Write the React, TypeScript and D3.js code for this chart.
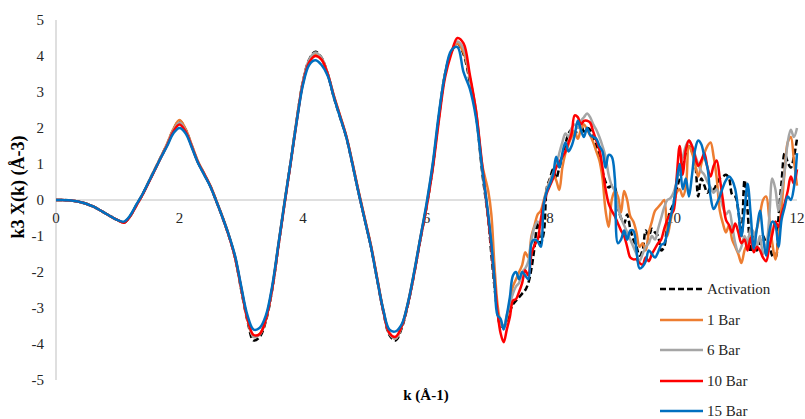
import React from "react";
import * as d3 from "d3";

// k grid: 0.0..6.9 step 0.1, then 7.00..12.00 step 0.05
const kLow: number[] = d3.range(0, 70).map((i) => +(i * 0.1).toFixed(2));
const kHigh: number[] = d3.range(0, 101).map((i) => +(7 + i * 0.05).toFixed(2));
const kValues: number[] = [...kLow, ...kHigh];

const xTicks = [0, 2, 4, 6, 8, 10, 12];
const yTicks = [5, 4, 3, 2, 1, 0, -1, -2, -3, -4, -5];
const seriesNames = ["Activation", "1 Bar", "6 Bar", "10 Bar", "15 Bar"];

const activationLow = [0,0,-0.01,-0.03,-0.06,-0.11,-0.18,-0.27,-0.37,-0.47,
-0.56,-0.63,-0.45,-0.15,0.15,0.5,0.85,1.2,1.55,1.95,
2.2,1.95,1.5,1.05,0.72,0.38,-0.05,-0.5,-1.0,-1.6,
-2.5,-3.35,-3.9,-3.8,-3.35,-2.5,-1.3,-0.1,1.05,2.25,
3.3,3.9,4.12,3.95,3.5,2.85,2.3,1.75,1.0,0.2,
-0.55,-1.3,-2.2,-3.1,-3.75,-3.9,-3.55,-2.9,-2.05,-1.1,
-0.2,0.9,2.3,3.5,4.1,4.35,4.05,3.3,2.4,0.8];
const activationHigh = [-0.55,-1.5,-2.4,-3.1,-3.5,-3.5,-3.4,-3.1,-2.9,-2.8,
-2.7,-2.6,-2.5,-2.3,-1.9,-1.3,-0.6,-1.2,-0.9,0.35,
0.6,0.85,0.6,0.9,1.2,1.55,1.85,1.95,1.8,2.0,
2.1,1.9,2.0,1.95,1.7,1.5,1.2,0.8,0.5,0.35,
0.4,0.35,-0.2,-0.5,-0.65,-0.4,-0.8,-1.1,-1.3,-1.55,
-1.4,-0.85,-1.0,-0.8,-0.9,-1.0,-1.4,-1.3,-0.6,-0.3,
-0.1,0.3,0.6,0.9,1.3,1.5,1.35,1.05,0.1,0.6,
0.4,0.2,0.35,0.3,0.45,0.6,0.65,0.7,0.6,0.15,
0.1,-0.3,-1.0,0.55,-0.3,-1.45,-1.0,-1.4,-1.2,-1.0,
-1.2,-1.25,-1.55,-1.6,-0.5,0.5,1.3,1.05,0.9,1.2,
1.7];

const bar1Low = [0,0,-0.01,-0.03,-0.06,-0.11,-0.18,-0.27,-0.37,-0.47,
-0.56,-0.62,-0.45,-0.15,0.15,0.5,0.85,1.2,1.57,1.97,
2.22,1.97,1.52,1.07,0.74,0.4,-0.03,-0.48,-0.98,-1.58,
-2.45,-3.3,-3.8,-3.72,-3.3,-2.45,-1.25,-0.07,1.05,2.25,
3.28,3.85,4.05,3.92,3.5,2.9,2.35,1.78,1.05,0.25,
-0.5,-1.25,-2.15,-3.05,-3.7,-3.85,-3.5,-2.85,-2.0,-1.05,
-0.15,0.95,2.3,3.5,4.1,4.35,4.1,3.4,2.5,1.0];
const bar1High = [0.25,-0.4,-1.8,-2.9,-3.4,-3.55,-3.3,-2.8,-2.4,-2.2,
-2.0,-1.8,-1.45,-1.6,-1.0,-0.7,-0.4,-0.3,0.0,0.3,
0.55,0.7,0.55,0.28,0.9,1.3,1.55,1.75,1.9,1.7,
1.95,2.1,1.95,1.8,1.6,1.35,1.1,0.6,-0.3,-0.75,
0.0,0.25,0.1,-0.35,0.25,0.0,-0.45,-0.6,-0.9,-1.3,
-1.2,-1.4,-0.9,-0.6,-0.3,-0.2,-0.1,0.0,-1.0,-0.6,
-0.2,0.2,0.3,0.1,0.36,1.5,1.3,1.0,0.65,1.0,
1.3,1.5,1.6,1.2,0.6,-0.3,-0.65,-0.9,-0.7,-1.1,
-1.3,-1.5,-1.75,-1.4,-1.2,-1.0,-1.1,-0.8,-0.4,0.0,
0.1,-0.5,-1.2,-1.65,-1.0,-0.2,0.8,1.6,1.75,1.1,
0.4];

const bar6Low = [0,0,-0.01,-0.03,-0.06,-0.11,-0.18,-0.27,-0.37,-0.47,
-0.56,-0.62,-0.45,-0.15,0.15,0.5,0.85,1.2,1.55,1.93,
2.15,1.93,1.5,1.05,0.72,0.38,-0.05,-0.5,-1.0,-1.6,
-2.48,-3.3,-3.8,-3.74,-3.3,-2.48,-1.28,-0.1,1.05,2.25,
3.3,3.9,4.1,3.95,3.52,2.88,2.32,1.77,1.02,0.22,
-0.53,-1.28,-2.18,-3.08,-3.72,-3.85,-3.5,-2.88,-2.03,-1.08,
-0.18,0.92,2.3,3.5,4.12,4.4,4.2,3.4,2.45,0.9];
const bar6High = [-0.5,-1.3,-2.3,-3.1,-3.45,-3.5,-3.2,-2.9,-2.6,-2.4,
-2.3,-2.0,-1.9,-1.7,-1.1,-0.75,-0.6,-0.7,-0.1,0.3,
0.55,0.75,0.95,1.3,1.6,1.85,1.75,2.0,2.1,2.0,
2.2,2.3,2.4,2.3,2.1,1.95,1.75,1.5,1.2,0.7,
0.4,0.25,-0.2,-0.5,-0.7,-0.9,-1.1,-1.3,-1.5,-1.7,
-1.5,-1.3,-1.2,-1.0,-1.1,-0.8,-0.5,-0.2,0.0,0.05,
0.2,0.5,0.9,1.2,1.5,1.65,1.5,1.25,1.0,0.8,
0.7,0.5,0.35,0.2,0.3,0.1,-0.2,-0.4,-0.3,-0.7,
-1.2,-1.45,-1.3,-1.0,-1.2,-0.8,-0.9,-1.3,-1.0,-1.5,
-1.3,-0.5,0.6,0.3,-0.3,0.2,0.8,1.6,1.95,1.75,
2.0];

const bar10Low = [0,0,-0.01,-0.03,-0.06,-0.11,-0.18,-0.27,-0.37,-0.47,
-0.56,-0.63,-0.46,-0.16,0.14,0.48,0.83,1.18,1.52,1.9,
2.1,1.9,1.48,1.04,0.72,0.38,-0.05,-0.5,-1.0,-1.6,
-2.45,-3.3,-3.75,-3.72,-3.3,-2.48,-1.3,-0.12,1.02,2.2,
3.25,3.82,4.0,3.9,3.5,2.88,2.33,1.77,1.02,0.22,
-0.53,-1.28,-2.18,-3.08,-3.7,-3.8,-3.5,-2.88,-2.05,-1.1,
-0.2,0.85,2.2,3.4,4.05,4.5,4.35,3.5,2.5,1.0];
const bar10High = [-0.5,-1.3,-2.2,-3.1,-3.7,-3.95,-3.6,-3.25,-2.8,-2.75,
-2.55,-2.3,-1.95,-2.1,-1.5,-1.25,-1.1,-0.55,-0.1,0.2,
0.4,0.6,0.9,1.05,1.2,1.35,1.6,1.85,2.35,2.3,
2.1,2.2,2.2,2.15,1.9,1.65,1.4,0.9,0.3,-0.1,
-0.3,-0.45,-0.65,-0.85,-1.0,-1.3,-1.6,-1.65,-1.65,-1.75,
-1.8,-1.6,-1.7,-1.5,-1.35,-1.2,-1.1,-0.8,-0.55,-0.4,
-0.3,0.6,1.5,0.7,1.4,1.65,1.5,1.2,0.95,1.1,
1.3,0.9,0.65,0.95,1.1,0.6,0.0,-0.55,-0.7,-0.9,
-0.65,-0.9,-1.2,-1.1,-1.4,-1.05,-1.45,-1.3,-1.4,-1.6,
-1.7,-1.3,-0.95,-0.6,-0.75,-0.4,-0.1,0.25,0.65,0.45,
0.85];

const bar15Low = [0,0,-0.01,-0.03,-0.06,-0.11,-0.18,-0.27,-0.37,-0.47,
-0.56,-0.6,-0.43,-0.13,0.16,0.5,0.84,1.18,1.5,1.85,
2.0,1.85,1.45,1.03,0.7,0.37,-0.05,-0.5,-0.98,-1.55,
-2.4,-3.2,-3.6,-3.55,-3.2,-2.4,-1.25,-0.08,1.05,2.2,
3.2,3.75,3.88,3.75,3.45,2.85,2.3,1.75,1.0,0.2,
-0.55,-1.3,-2.2,-3.05,-3.6,-3.65,-3.45,-2.85,-2.0,-1.05,
-0.1,1.0,2.4,3.5,4.15,4.25,3.55,3.1,2.3,0.9];
const bar15High = [-0.4,-1.2,-2.2,-3.2,-3.3,-3.6,-3.2,-2.7,-2.1,-2.0,
-2.2,-2.0,-2.1,-2.2,-1.2,-1.1,-1.15,-1.3,-0.1,0.25,
0.45,0.7,1.2,0.9,1.3,1.6,1.35,1.5,1.8,2.2,
1.95,1.75,2.0,1.8,1.75,1.7,1.5,1.35,0.9,1.25,
1.2,0.6,-1.2,-1.1,-0.85,-1.1,-0.85,-0.85,-1.4,-1.9,
-1.85,-1.7,-1.4,-1.5,-1.6,-1.45,-1.25,-1.2,-0.9,-0.5,
-0.1,0.5,1.0,0.3,0.6,0.1,0.7,1.4,1.65,1.55,
1.2,0.9,0.1,-0.25,-0.1,0.1,0.35,0.55,0.65,0.55,
0.3,-0.3,-1.0,-0.3,0.45,-0.4,-1.35,-0.8,-0.3,-1.0,
-1.55,-0.9,-0.6,-0.7,-1.3,-0.55,-0.2,0.1,0.0,0.35,
1.3];

const seriesValues: number[][] = [
  [...activationLow, ...activationHigh],
  [...bar1Low, ...bar1High],
  [...bar6Low, ...bar6High],
  [...bar10Low, ...bar10High],
  [...bar15Low, ...bar15High],
];
const seriesColors = ["#000000", "#ED7D31", "#A5A5A5", "#FF0000", "#0070C0"];

const W = 805;
const H = 419;
const FONT = "Liberation Serif, Times New Roman, Times, serif";
const txt = { fontFamily: FONT } as React.CSSProperties;

export default function App() {
  const x = d3.scaleLinear().domain([0, 12]).range([56, 797]);
  const y = d3.scaleLinear().domain([-5, 5]).range([380, 20]);
  const line = d3
    .line<number>()
    .x((_, i) => x(kValues[i]))
    .y((v) => y(v))
    .curve(d3.curveCatmullRom.alpha(0.5));

  const legendRows = [289, 320, 350, 381, 411];

  return (
    <svg
      width={W}
      height={H}
      style={{ position: "absolute", left: 0, top: 0, background: "#fff", fontFamily: FONT }}
    >
      <rect x={0} y={0} width={W} height={H} fill="#fff" />
      {/* axes */}
      <line x1={x(0)} x2={x(0)} y1={y(5)} y2={y(-5)} stroke="#BFBFBF" strokeWidth={1} />
      <line x1={x(0)} x2={x(12)} y1={y(0)} y2={y(0)} stroke="#BFBFBF" strokeWidth={1} />
      {yTicks.map((t) => (
        <text key={"y" + t} x={44} y={y(t)} dy="0.35em" textAnchor="end" fontSize={15} fill="#262626" style={txt}>
          {t}
        </text>
      ))}
      {xTicks.map((t) => (
        <text key={"x" + t} x={x(t)} y={y(0) + 18} dy="0.35em" textAnchor="middle" fontSize={15} fill="#262626" style={txt}>
          {t}
        </text>
      ))}
      <text
        transform={`translate(18,187) rotate(-90)`}
        textAnchor="middle"
        dy="0.35em"
        fontSize={18}
        fontWeight="bold"
        fill="#000"
        style={txt}
      >
        k3 X(k) (Å-3)
      </text>
      <text x={426} y={395} dy="0.35em" textAnchor="middle" fontSize={15} fontWeight="bold" fill="#000" style={txt}>
        k (Å-1)
      </text>
      {/* series */}
      {seriesValues.map((vals, si) => (
        <path
          key={seriesNames[si]}
          d={line(vals) || ""}
          fill="none"
          stroke={seriesColors[si]}
          strokeWidth={2.5}
          strokeDasharray={si === 0 ? "6,3" : undefined}
          strokeLinejoin="round"
        />
      ))}
      {/* legend */}
      {seriesNames.map((n, si) => (
        <g key={"lg" + n}>
          <line
            x1={660}
            x2={703}
            y1={legendRows[si]}
            y2={legendRows[si]}
            stroke={seriesColors[si]}
            strokeWidth={2.5}
            strokeDasharray={si === 0 ? "6,3" : undefined}
          />
          <text x={707} y={legendRows[si]} dy="0.35em" fontSize={15} fill="#262626" style={txt}>
            {n}
          </text>
        </g>
      ))}
    </svg>
  );
}
